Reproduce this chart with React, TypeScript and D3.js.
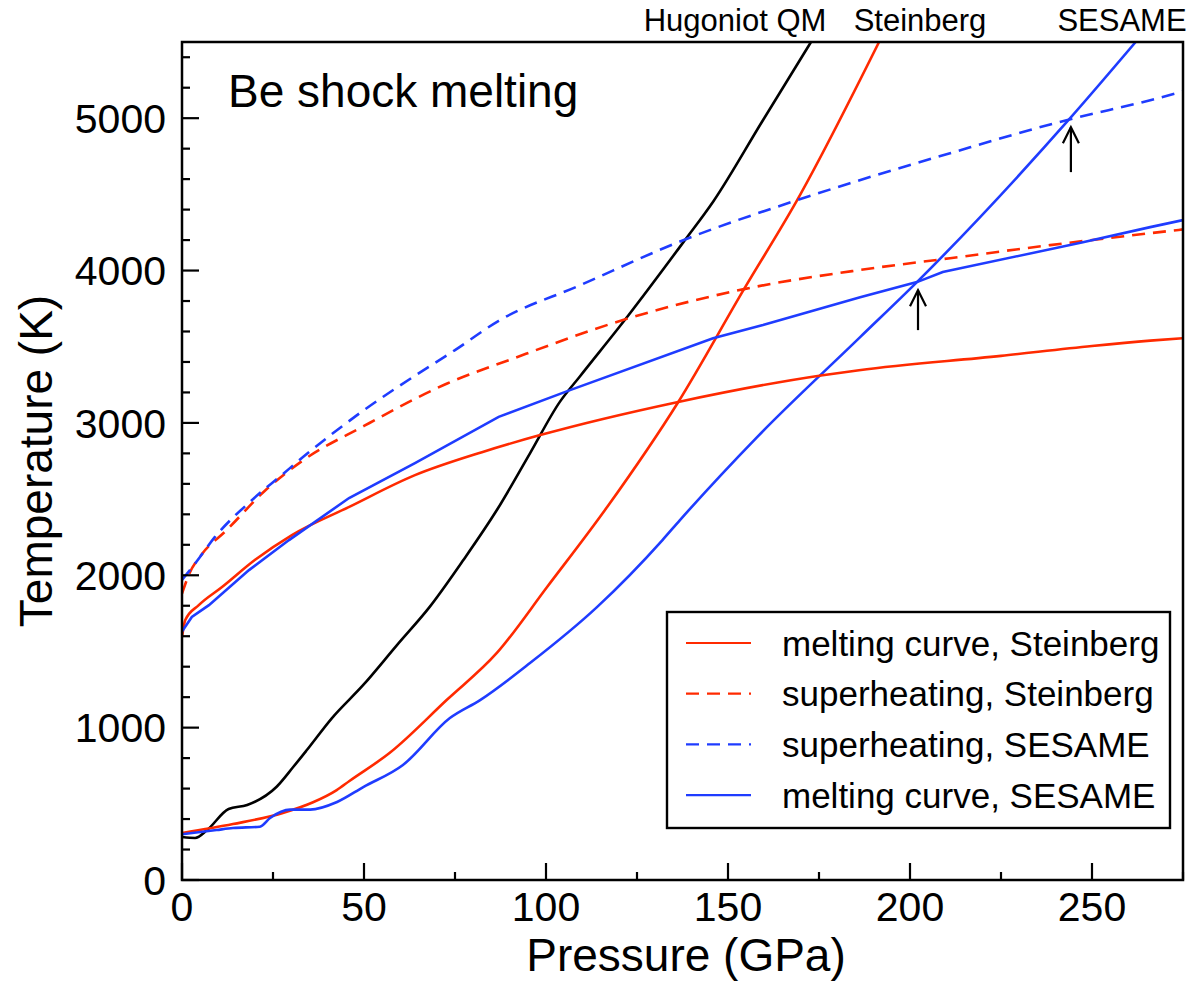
import React, { useEffect, useRef } from "react";
import * as d3 from "d3";

// [pressure GPa, temperature K]
const hugoniotQM: [number, number][] = [
  [0, 282], [3.6, 276], [6.9, 328], [12.8, 466], [17.9, 492], [26, 612],
  [30.6, 743], [34.3, 853], [41.2, 1063], [49.8, 1280], [59, 1540], [68.1, 1794],
  [77.3, 2100], [86.5, 2428], [95.6, 2800], [103.8, 3138], [109.3, 3305], [122.6, 3705],
  [137.7, 4185], [146, 4455], [159.3, 4975], [172.8, 5500],
];

const hugoniotSteinberg: [number, number][] = [
  [0, 308], [14, 367], [27.7, 440], [36, 510], [42.5, 590], [46, 650], [57, 833],
  [72.7, 1181], [86.5, 1490], [100.3, 1923], [116.8, 2448], [136.3, 3136], [154.4, 3878],
  [169, 4462], [191.5, 5500],
];

const hugoniotSesame: [number, number][] = [
  [0, 300], [9.5, 328], [14, 341], [21.4, 350], [24.2, 407], [29.7, 462], [35.2, 462],
  [42.6, 512], [49.8, 610], [60.7, 755], [73.6, 1063], [81.9, 1181], [95.6, 1424],
  [114, 1791], [132, 2231], [136.8, 2362], [158, 2907], [186.3, 3563], [201.9, 3924],
  [244, 5000], [262, 5500],
];

const meltSteinberg: [number, number][] = [
  [0, 1594], [0.9, 1706], [4.6, 1804], [11, 1923], [20, 2100], [30.2, 2264], [45.8, 2447],
  [64, 2657], [82.4, 2808], [98.4, 2920], [136, 3136], [176, 3313], [186, 3346],
  [225, 3440], [250, 3505], [266, 3540], [275, 3556],
];

const superSteinberg: [number, number][] = [
  [0, 1880], [2, 2010], [5.5, 2140], [12, 2290], [23, 2560], [33, 2750], [50, 2980],
  [73, 3260], [90.7, 3420], [122.6, 3686], [154.4, 3878], [186, 4003], [211, 4081],
  [238.5, 4167], [266, 4245], [275, 4270],
];

const superSesame: [number, number][] = [
  [0, 1970], [3.7, 2080], [9, 2250], [19.2, 2493], [27.5, 2660], [35, 2810], [50, 3084],
  [64, 3310], [75, 3478], [87, 3670], [109, 3900], [137.7, 4199], [169, 4462],
  [183.5, 4573], [211, 4770], [243, 4987], [266, 5118], [275, 5175],
];

const meltSesame: [number, number][] = [
  [0, 1630], [2.7, 1726], [7.4, 1804], [18.4, 2034], [29.4, 2231], [45.9, 2507],
  [64, 2736], [87, 3040], [106.6, 3215], [145.9, 3556], [159.6, 3642], [186.3, 3825],
  [201.9, 3924], [209, 3990], [247.5, 4186], [266, 4285], [275, 4331],
];

// arrows: [pressure, tail T, tip T]
const arrows: [number, number, number][] = [
  [202.2, 3609, 3871],
  [244.2, 4646, 4941],
];

const xMajor = [0, 50, 100, 150, 200, 250];
const yMajor = [0, 1000, 2000, 3000, 4000, 5000];
const topLabels = ["Hugoniot QM", "Steinberg", "SESAME"];
const legendLabels = [
  "melting curve, Steinberg",
  "superheating, Steinberg",
  "superheating, SESAME",
  "melting curve, SESAME",
];

const RED = "#ff2a00";
const BLUE = "#1f3cff";
const FONT = "'Liberation Sans', Arial, Helvetica, sans-serif";

const App = () => {
  const svgRef = useRef<SVGSVGElement>(null);

  useEffect(() => {
    const W = 1203;
    const H = 985;
    const left = 182, right = 1183, top = 42, bottom = 880;

    const svg = d3.select(svgRef.current).attr("width", W).attr("height", H);
    svg.selectAll("*").remove();

    const x = d3.scaleLinear().domain([0, 275]).range([left, right]);
    const y = d3.scaleLinear().domain([0, 5500]).range([bottom, top]);

    svg.append("defs").append("clipPath").attr("id", "plotClip")
      .append("rect")
      .attr("x", left).attr("y", top)
      .attr("width", right - left).attr("height", bottom - top);

    const series = [
      { data: hugoniotQM, color: "#000", dash: null, curve: d3.curveMonotoneX },
      { data: hugoniotSteinberg, color: RED, dash: null, curve: d3.curveMonotoneX },
      { data: hugoniotSesame, color: BLUE, dash: null, curve: d3.curveMonotoneX },
      { data: meltSteinberg, color: RED, dash: null, curve: d3.curveMonotoneX },
      { data: superSteinberg, color: RED, dash: "13,8", curve: d3.curveMonotoneX },
      { data: superSesame, color: BLUE, dash: "13,8", curve: d3.curveMonotoneX },
      { data: meltSesame, color: BLUE, dash: null, curve: d3.curveLinear },
    ];

    const curves = svg.append("g").attr("clip-path", "url(#plotClip)");
    series.forEach((s) => {
      const line = d3.line<[number, number]>()
        .x((d) => x(d[0]))
        .y((d) => y(d[1]))
        .curve(s.curve);
      curves.append("path")
        .attr("d", line(s.data))
        .attr("fill", "none")
        .attr("stroke", s.color)
        .attr("stroke-width", 2.6)
        .attr("stroke-dasharray", s.dash);
    });

    // arrows
    arrows.forEach(([p, t0, t1]) => {
      const ax = x(p), y0 = y(t0), y1 = y(t1);
      const g = svg.append("g").attr("stroke", "#000").attr("stroke-width", 2.2).attr("fill", "none");
      g.append("line").attr("x1", ax).attr("x2", ax).attr("y1", y0).attr("y2", y1);
      g.append("path").attr("d", `M${ax - 8},${y1 + 16} L${ax},${y1} L${ax + 8},${y1 + 16}`);
    });

    // ticks (inward, left and bottom)
    const ticks = svg.append("g").attr("stroke", "#000").attr("stroke-width", 2.2);
    d3.range(0, 5500, 200).forEach((v) => {
      const major = v % 1000 === 0;
      ticks.append("line")
        .attr("x1", left).attr("x2", left + (major ? 17 : 8))
        .attr("y1", y(v)).attr("y2", y(v));
    });
    d3.range(0, 276, 25).forEach((v) => {
      const major = v % 50 === 0;
      ticks.append("line")
        .attr("x1", x(v)).attr("x2", x(v))
        .attr("y1", bottom).attr("y2", bottom - (major ? 17 : 8));
    });

    // frame
    svg.append("rect")
      .attr("x", left).attr("y", top)
      .attr("width", right - left).attr("height", bottom - top)
      .attr("fill", "none").attr("stroke", "#000").attr("stroke-width", 2.5);

    // tick labels
    svg.append("g").selectAll("text").data(yMajor).join("text")
      .attr("x", 166).attr("y", (d) => y(d)).attr("dy", "0.36em")
      .attr("text-anchor", "end")
      .attr("font-family", FONT).attr("font-size", 41)
      .text((d) => d);
    svg.append("g").selectAll("text").data(xMajor).join("text")
      .attr("x", (d) => x(d)).attr("y", 921)
      .attr("text-anchor", "middle")
      .attr("font-family", FONT).attr("font-size", 41)
      .text((d) => d);

    // axis titles
    svg.append("text")
      .attr("x", 686).attr("y", 971).attr("text-anchor", "middle")
      .attr("font-family", FONT).attr("font-size", 46)
      .text("Pressure (GPa)");
    svg.append("text")
      .attr("transform", `translate(52, 461) rotate(-90)`)
      .attr("text-anchor", "middle")
      .attr("font-family", FONT).attr("font-size", 46)
      .text("Temperature (K)");

    // title
    svg.append("text")
      .attr("x", 228).attr("y", 107)
      .attr("font-family", FONT).attr("font-size", 46)
      .text("Be shock melting");

    // labels above the frame
    const topX = [735, 920, 1122];
    svg.append("g").selectAll("text").data(topLabels).join("text")
      .attr("x", (d, i) => topX[i]).attr("y", 31)
      .attr("text-anchor", "middle")
      .attr("font-family", FONT).attr("font-size", 31)
      .text((d) => d);

    // legend
    const legend = svg.append("g");
    legend.append("rect")
      .attr("x", 667).attr("y", 612).attr("width", 503).attr("height", 216)
      .attr("fill", "#fff").attr("stroke", "#000").attr("stroke-width", 2.4);
    const legendStyle = [
      { color: RED, dash: null },
      { color: RED, dash: "13,8" },
      { color: BLUE, dash: "13,8" },
      { color: BLUE, dash: null },
    ];
    legendLabels.forEach((label, i) => {
      const ly = 643 + i * 50.7;
      legend.append("line")
        .attr("x1", 686).attr("x2", 751).attr("y1", ly).attr("y2", ly)
        .attr("stroke", legendStyle[i].color).attr("stroke-width", 2.2)
        .attr("stroke-dasharray", legendStyle[i].dash);
      legend.append("text")
        .attr("x", 782).attr("y", ly).attr("dy", "0.36em")
        .attr("font-family", FONT).attr("font-size", 35)
        .text(label);
    });
  }, []);

  return (
    <svg
      ref={svgRef}
      style={{ position: "absolute", left: 0, top: 0, display: "block", background: "#fff" }}
    />
  );
};

export default App;
